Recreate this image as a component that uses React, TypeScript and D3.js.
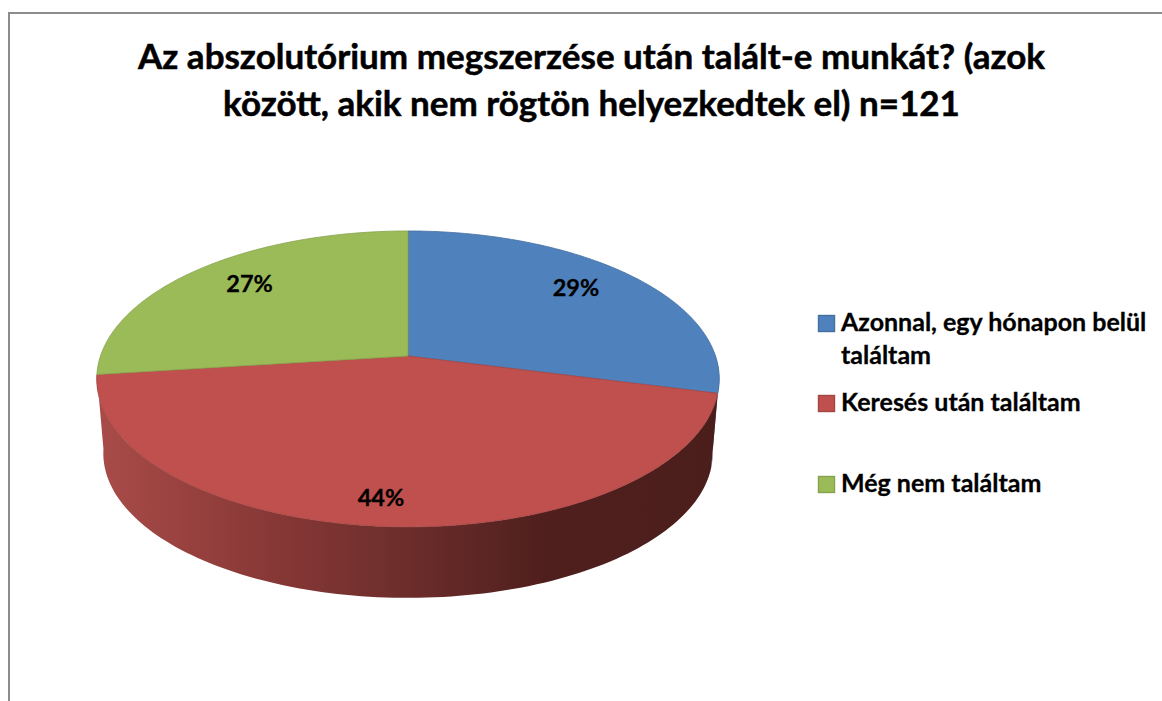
import React from "react";
import * as d3 from "d3";

const categories = ["Azonnal, egy hónapon belül találtam", "Keresés után találtam", "Még nem találtam"];
const values = [29, 44, 27];
const colors = ["#4f81bd", "#c0504d", "#9bbb59"];
const strokes = ["#44709f", "#a34543", "#86a34c"];
const legendLines = [["Azonnal, egy hónapon belül", "találtam"], ["Keresés után találtam"], ["Még nem találtam"]];
const titleLines = ["Az abszolutórium megszerzése után talált-e munkát? (azok", "között, akik nem rögtön helyezkedtek el) n=121"];

const W = 1162, H = 701;
const CX = 408, CY = 356, B = 307.5, A = 144.4, K = 0.155;
const BB = 301, AB = 141, DY = 75;

const project = (angle: number, r = 1, bottom = false) => {
  const u = r * Math.sin(angle), v = r * Math.cos(angle);
  const d = 1 + K * v;
  return bottom
    ? [CX + (BB * u) / d, CY + DY - (AB * v) / d] as [number, number]
    : [CX + (B * u) / d, CY - (A * v) / d] as [number, number];
};

const arcPts = (a0: number, a1: number, bottom = false) =>
  d3.range(0, 121).map((i) => project(a0 + ((a1 - a0) * i) / 120, 1, bottom));

const line = d3.line();
const pie = d3.pie<number>().sort(null)(values);

const wallPath = (a0: number, a1: number) =>
  line([...arcPts(a0, a1), ...arcPts(a1, a0, true)])! + "Z";
const slicePath = (a0: number, a1: number) =>
  line([[CX, CY], ...arcPts(a0, a1)])! + "Z";

const labelNudge = [[-19, 0], [-8, 0], [16, 0]];
const labelRadius = [0.83, 0.855, 0.82];
const legendSwatchY = [315, 395, 476];
const legendBaselines = [[331, 364], [411], [492]];

const font = "Lato, Carlito, sans-serif";

export default function App() {
  return (
    <svg width={W} height={H} style={{ position: "absolute", left: 0, top: 0, display: "block", background: "#fff" }}>
      <defs>
        <linearGradient id="wall" gradientUnits="userSpaceOnUse" x1={96} x2={720} y1={0} y2={0}>
          <stop offset="0" stopColor="#a94c49" />
          <stop offset="0.25" stopColor="#8b3a38" />
          <stop offset="0.5" stopColor="#6c2d2b" />
          <stop offset="0.72" stopColor="#4f1f1d" />
          <stop offset="1" stopColor="#4b1e1c" />
        </linearGradient>
      </defs>
      <path d={`M9,${H}V13H${W}`} fill="none" stroke="#8c8c8c" strokeWidth={2} />
      {titleLines.map((t, i) => (
        <text key={t} x={591.5} y={69 + i * 47} textAnchor="middle" fontFamily={font} fontWeight={700} fontSize={35} fill="#000" stroke="#000" strokeWidth={0.5}>
          {t}
        </text>
      ))}
      <path d={wallPath(Math.PI / 2 - 0.02, pie[0].endAngle)} fill="#3f6797" />
      <path d={wallPath(pie[1].startAngle, pie[1].endAngle)} fill="url(#wall)" />
      {pie.map((p, i) => (
        <path key={categories[i]} d={slicePath(p.startAngle, p.endAngle)} fill={colors[i]} stroke={strokes[i]} strokeWidth={0.8} />
      ))}
      {pie.map((p, i) => {
        const [x, y] = project((p.startAngle + p.endAngle) / 2, labelRadius[i]);
        return (
          <text key={i} x={x + labelNudge[i][0]} y={y + labelNudge[i][1] + 8} textAnchor="middle" fontFamily={font} fontWeight={700} fontSize={23.5} fill="#000" stroke="#000" strokeWidth={0.3}>
            {d3.format(".0%")(values[i] / 100)}
          </text>
        );
      })}
      {categories.map((c, i) => (
        <g key={c}>
          <rect x={818.5} y={legendSwatchY[i] + 0.5} width={16} height={16} fill={colors[i]} stroke={strokes[i]} strokeWidth={1.4} />
          {legendLines[i].map((l, j) => (
            <text key={l} x={841} y={legendBaselines[i][j]} fontFamily={font} fontWeight={700} fontSize={25} fill="#000" stroke="#000" strokeWidth={0.3}>
              {l}
            </text>
          ))}
        </g>
      ))}
    </svg>
  );
}
